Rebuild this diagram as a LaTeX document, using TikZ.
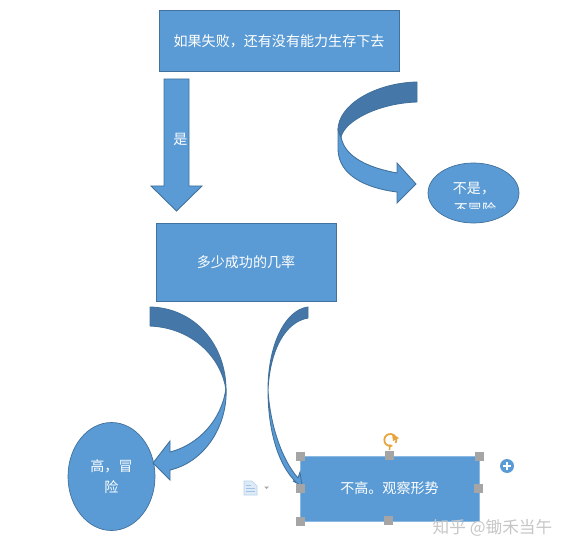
\documentclass[tikz,border=0pt]{standalone}
\usepackage{fontspec}
\setmainfont{Noto Sans CJK SC}
\usepackage{tikz}
\usetikzlibrary{positioning,shapes.geometric}
\definecolor{boxBlue}{HTML}{5B9BD5}
\definecolor{edgeBlue}{HTML}{41719C}
\definecolor{bandBlue}{HTML}{4577A8}
\definecolor{handleGray}{HTML}{A5A5A5}
\definecolor{knobOrange}{HTML}{E8A33D}
\tikzset{
    bluebox/.style={draw=edgeBlue, fill=boxBlue, text=white, inner sep=0pt},
    blueoval/.style={bluebox, ellipse},
    bandlight/.style={draw=edgeBlue, fill=boxBlue, line width=0.5pt},
    banddark/.style={draw=edgeBlue, fill=bandBlue, line width=0.5pt},
    handle/.style={fill=handleGray, minimum size=0.18cm, inner sep=0pt}
}

\begin{document}
\begin{tikzpicture}[x=0.02cm, y=-0.02cm, every node/.style={font=\fontsize{8}{12}\selectfont, align=center}]
            \useasboundingbox (0,0) rectangle (567,553);

            % Boxes
            \node[bluebox, minimum width=4.8cm, minimum height=1.22cm] (risk) at (279,41) {如果失败，还有没有能力生存下去};
            \node[bluebox, minimum width=3.6cm, minimum height=1.56cm] (odds) at (246,262) {多少成功的几率};
            \node[bluebox, draw=boxBlue!70!white, minimum width=3.58cm, minimum height=1.3cm] (watch) at (389.5,488.5) {不高。观察形势};

            % Ovals
            \node[blueoval, minimum width=1.82cm, minimum height=1.2cm] (noRisk) at (473.5,193) {};
            \node[blueoval, minimum width=1.74cm, minimum height=2.16cm] (goRisk) at (111.5,476.5) {高，冒\\险};

            % Text of the small oval, second line cut off
            \node[text=white] (noRiskA) at (474,188.5) {不是，};
            \begin{scope}
                \clip (440,200) rectangle (510,209);
                \node[text=white] (noRiskB) at (475,209) {不冒险};
            \end{scope}

            % Straight arrow
            \draw[bandlight] (164,79) -- (189,79) -- (189,186) -- (202,186) -- (176.5,211) -- (151,186) -- (164,186) -- cycle;
            \node[text=white] (yes) at (180.5,139.5) {是};

            % Curved arrow, top right
            \draw[bandlight] (338,130) -- (338,150) .. controls (339,175) and (365,188) .. (397,192) -- (397,203) -- (416,184) -- (397,163) -- (397,173) .. controls (370,168) and (345,158) .. (341,137) -- cycle;
            \draw[banddark] (417,82) .. controls (375,83) and (338,105) .. (338,130) -- (341,137) .. controls (345,120) and (380,103) .. (417,102) -- cycle;

            % Curved arrow, lower left
            \draw[bandlight] (226,388) .. controls (228,425) and (205,462) .. (170,470) -- (170,480) -- (153,463) -- (170,441) -- (170,452) .. controls (198,445) and (222,420) .. (226,388) -- cycle;
            \draw[banddark] (150,307) .. controls (195,308) and (226,345) .. (226,390) .. controls (222,360) and (195,328) .. (150,326) -- cycle;

            % Thin curved arrow
            \draw[bandlight] (268,390) .. controls (268,430) and (278,465) .. (296,482) -- (293,481) -- (302,486) -- (300,472) -- (298,478) .. controls (282,460) and (270,425) .. (268,390) -- cycle;
            \draw[banddark] (308,307) .. controls (285,310) and (268,345) .. (268,390) .. controls (270,350) and (285,322) .. (308,318) -- cycle;

            % Selection handles
            \node[handle] (hNW) at (300,456) {};
            \node[handle] (hN) at (389,455) {};
            \node[handle] (hNE) at (479,456) {};
            \node[handle] (hW) at (300,488) {};
            \node[handle] (hE) at (478,488) {};
            \node[handle] (hSW) at (300,521) {};
            \node[handle] (hS) at (388,520) {};

            % Rotate knob
            \coordinate (knob) at (390,444.5);
            \draw[knobOrange, line width=0.9pt] (knob) -- (hN);
            \draw[knobOrange, line width=1pt] (395.5,443) arc (30:-290:6);
            \fill[knobOrange] (392,434) -- (399,438) -- (393,441) -- cycle;

            % Plus button
            \node[circle, fill=boxBlue, minimum size=0.28cm, inner sep=0pt] (plus) at (507,466) {};
            \draw[white, line width=1pt] (503,466) -- (511,466) (507,462) -- (507,470);

            % Paste icon
            \draw[boxBlue!45!white, fill=boxBlue!20!white] (244,481) -- (252,481) -- (257,486) -- (257,495) -- (244,495) -- cycle;
            \draw[boxBlue!60!white] (246,485) -- (251,485) (246,488) -- (255,488) (246,491) -- (255,491);
            \fill[gray!70] (264,486.5) -- (269,486.5) -- (266.5,489) -- cycle;

            % Watermark
            \node[font=\fontsize{9.5}{11}\selectfont, text=gray!45] (mark) at (492.5,527.5) {知乎 @锄禾当午};
        \end{tikzpicture}
\end{document}
